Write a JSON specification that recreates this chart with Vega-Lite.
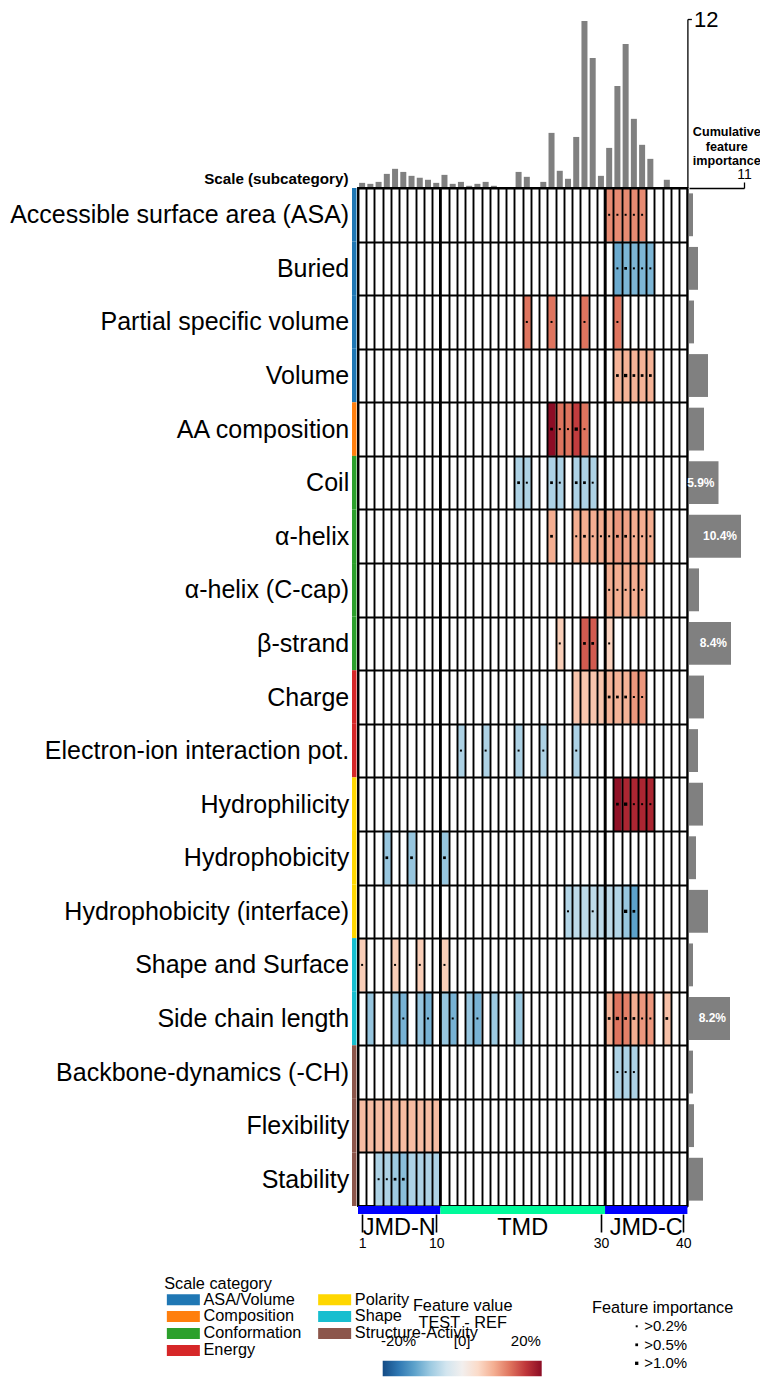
{
  "$schema": "https://vega.github.io/schema/vega-lite/v6.json",
  "padding": {"left": 8, "top": 8, "right": 0, "bottom": 0},
  "autosize": {"type": "pad"},
  "config": {
    "font": "Liberation Sans",
    "view": {"stroke": null},
    "axis": {"labelColor": "black", "titleColor": "black", "domainColor": "black", "tickColor": "black"},
    "legend": {"labelColor": "black", "titleColor": "black"}
  },
  "resolve": {"legend": {"size": "independent", "color": "independent"}},
  "datasets": {
    "subs": [
      {"sub": "Accessible surface area (ASA)", "cat": "ASA/Volume", "imp": 0.8, "lbl": ""},
      {"sub": "Buried", "cat": "ASA/Volume", "imp": 1.8, "lbl": ""},
      {"sub": "Partial specific volume", "cat": "ASA/Volume", "imp": 1.0, "lbl": ""},
      {"sub": "Volume", "cat": "ASA/Volume", "imp": 3.8, "lbl": ""},
      {"sub": "AA composition", "cat": "Composition", "imp": 3.0, "lbl": ""},
      {"sub": "Coil", "cat": "Conformation", "imp": 5.9, "lbl": "5.9%"},
      {"sub": "α-helix", "cat": "Conformation", "imp": 10.4, "lbl": "10.4%"},
      {"sub": "α-helix (C-cap)", "cat": "Conformation", "imp": 2.0, "lbl": ""},
      {"sub": "β-strand", "cat": "Conformation", "imp": 8.4, "lbl": "8.4%"},
      {"sub": "Charge", "cat": "Energy", "imp": 3.0, "lbl": ""},
      {"sub": "Electron-ion interaction pot.", "cat": "Energy", "imp": 1.8, "lbl": ""},
      {"sub": "Hydrophilicity", "cat": "Polarity", "imp": 2.8, "lbl": ""},
      {"sub": "Hydrophobicity", "cat": "Polarity", "imp": 1.4, "lbl": ""},
      {"sub": "Hydrophobicity (interface)", "cat": "Polarity", "imp": 3.8, "lbl": ""},
      {"sub": "Shape and Surface", "cat": "Shape", "imp": 0.8, "lbl": ""},
      {"sub": "Side chain length", "cat": "Shape", "imp": 8.2, "lbl": "8.2%"},
      {"sub": "Backbone-dynamics (-CH)", "cat": "Structure-Activity", "imp": 0.8, "lbl": ""},
      {"sub": "Flexibility", "cat": "Structure-Activity", "imp": 1.0, "lbl": ""},
      {"sub": "Stability", "cat": "Structure-Activity", "imp": 2.8, "lbl": ""}
    ],
    "posimp": [
      {"pos": 1, "imp": 0.33}, {"pos": 2, "imp": 0.26}, {"pos": 3, "imp": 0.4}, {"pos": 4, "imp": 0.97},
      {"pos": 5, "imp": 1.33}, {"pos": 6, "imp": 1.11}, {"pos": 7, "imp": 0.83}, {"pos": 8, "imp": 0.69},
      {"pos": 9, "imp": 0.55}, {"pos": 10, "imp": 0.33}, {"pos": 11, "imp": 0.9}, {"pos": 12, "imp": 0.26},
      {"pos": 13, "imp": 0.4}, {"pos": 14, "imp": 0.12}, {"pos": 15, "imp": 0.26}, {"pos": 16, "imp": 0.4},
      {"pos": 17, "imp": 0.12}, {"pos": 18, "imp": 0}, {"pos": 19, "imp": 0}, {"pos": 20, "imp": 1.11},
      {"pos": 21, "imp": 0.76}, {"pos": 22, "imp": 0}, {"pos": 23, "imp": 0.4}, {"pos": 24, "imp": 3.89},
      {"pos": 25, "imp": 1.19}, {"pos": 26, "imp": 0.62}, {"pos": 27, "imp": 3.6}, {"pos": 28, "imp": 11.86},
      {"pos": 29, "imp": 9.22}, {"pos": 30, "imp": 0.83}, {"pos": 31, "imp": 2.82}, {"pos": 32, "imp": 7.23},
      {"pos": 33, "imp": 10.22}, {"pos": 34, "imp": 4.89}, {"pos": 35, "imp": 3.04}, {"pos": 36, "imp": 2.04},
      {"pos": 37, "imp": 0}, {"pos": 38, "imp": 0.55}, {"pos": 39, "imp": 0}, {"pos": 40, "imp": 0}
    ],
    "edges": [{"pos": 11}, {"pos": 31}],
    "regions": [
      {"region": "JMD-N", "start": 0.5, "end": 10.5, "mid": 5.5},
      {"region": "TMD", "start": 10.5, "end": 30.5, "mid": 20.5},
      {"region": "JMD-C", "start": 30.5, "end": 40.5, "mid": 35.5}
    ],
    "cells": [
      {"sub": "Accessible surface area (ASA)", "pos": 31, "val": 13, "dot": ">0.2%"},
      {"sub": "Accessible surface area (ASA)", "pos": 32, "val": 13, "dot": ">0.2%"},
      {"sub": "Accessible surface area (ASA)", "pos": 33, "val": 13, "dot": ">0.2%"},
      {"sub": "Accessible surface area (ASA)", "pos": 34, "val": 13, "dot": ">0.2%"},
      {"sub": "Accessible surface area (ASA)", "pos": 35, "val": 13, "dot": ">0.2%"},
      {"sub": "Buried", "pos": 32, "val": -14, "dot": ">0.2%"},
      {"sub": "Buried", "pos": 33, "val": -12.5, "dot": ">0.5%"},
      {"sub": "Buried", "pos": 34, "val": -12.5, "dot": ">0.2%"},
      {"sub": "Buried", "pos": 35, "val": -12.5, "dot": ">0.2%"},
      {"sub": "Buried", "pos": 36, "val": -12.5, "dot": ">0.2%"},
      {"sub": "Partial specific volume", "pos": 21, "val": 15, "dot": ">0.2%"},
      {"sub": "Partial specific volume", "pos": 24, "val": 15, "dot": ">0.2%"},
      {"sub": "Partial specific volume", "pos": 28, "val": 15, "dot": ">0.2%"},
      {"sub": "Partial specific volume", "pos": 32, "val": 15, "dot": ">0.2%"},
      {"sub": "Volume", "pos": 32, "val": 9.5, "dot": ">0.5%"},
      {"sub": "Volume", "pos": 33, "val": 9.5, "dot": ">1.0%"},
      {"sub": "Volume", "pos": 34, "val": 9.5, "dot": ">0.5%"},
      {"sub": "Volume", "pos": 35, "val": 9.5, "dot": ">0.5%"},
      {"sub": "Volume", "pos": 36, "val": 9.5, "dot": ">0.5%"},
      {"sub": "AA composition", "pos": 24, "val": 25, "dot": ">0.5%"},
      {"sub": "AA composition", "pos": 25, "val": 15, "dot": ">0.2%"},
      {"sub": "AA composition", "pos": 26, "val": 15, "dot": ">0.2%"},
      {"sub": "AA composition", "pos": 27, "val": 19.5, "dot": ">1.0%"},
      {"sub": "AA composition", "pos": 28, "val": 15, "dot": ">0.2%"},
      {"sub": "Coil", "pos": 20, "val": -8.5, "dot": ">0.5%"},
      {"sub": "Coil", "pos": 21, "val": -8.5, "dot": ">0.2%"},
      {"sub": "Coil", "pos": 24, "val": -8.5, "dot": ">0.5%"},
      {"sub": "Coil", "pos": 25, "val": -8.5, "dot": ">0.2%"},
      {"sub": "Coil", "pos": 27, "val": -8.5, "dot": ">0.5%"},
      {"sub": "Coil", "pos": 28, "val": -8.5, "dot": ">0.5%"},
      {"sub": "Coil", "pos": 29, "val": -8.5, "dot": ">0.2%"},
      {"sub": "α-helix", "pos": 24, "val": 10, "dot": ">0.5%"},
      {"sub": "α-helix", "pos": 27, "val": 10, "dot": ">0.2%"},
      {"sub": "α-helix", "pos": 28, "val": 10, "dot": ">0.5%"},
      {"sub": "α-helix", "pos": 29, "val": 10, "dot": ">0.2%"},
      {"sub": "α-helix", "pos": 30, "val": 10, "dot": ">0.2%"},
      {"sub": "α-helix", "pos": 31, "val": 10, "dot": ">0.2%"},
      {"sub": "α-helix", "pos": 32, "val": 12, "dot": ">0.5%"},
      {"sub": "α-helix", "pos": 33, "val": 11, "dot": ">0.5%"},
      {"sub": "α-helix", "pos": 34, "val": 10, "dot": ">0.2%"},
      {"sub": "α-helix", "pos": 35, "val": 10, "dot": ">0.2%"},
      {"sub": "α-helix", "pos": 36, "val": 10, "dot": ">0.2%"},
      {"sub": "α-helix (C-cap)", "pos": 31, "val": 10, "dot": ">0.2%"},
      {"sub": "α-helix (C-cap)", "pos": 32, "val": 10, "dot": ">0.2%"},
      {"sub": "α-helix (C-cap)", "pos": 33, "val": 10, "dot": ">0.2%"},
      {"sub": "α-helix (C-cap)", "pos": 34, "val": 10, "dot": ">0.2%"},
      {"sub": "α-helix (C-cap)", "pos": 35, "val": 10, "dot": ">0.2%"},
      {"sub": "β-strand", "pos": 25, "val": 6.5, "dot": ">0.2%"},
      {"sub": "β-strand", "pos": 28, "val": 17, "dot": ">0.5%"},
      {"sub": "β-strand", "pos": 29, "val": 17, "dot": ">0.5%"},
      {"sub": "β-strand", "pos": 31, "val": 6, "dot": ">0.2%"},
      {"sub": "Charge", "pos": 27, "val": 7.5},
      {"sub": "Charge", "pos": 28, "val": 7.5},
      {"sub": "Charge", "pos": 29, "val": 7.5},
      {"sub": "Charge", "pos": 30, "val": 7.5},
      {"sub": "Charge", "pos": 31, "val": 9.5, "dot": ">0.5%"},
      {"sub": "Charge", "pos": 32, "val": 9.5, "dot": ">0.5%"},
      {"sub": "Charge", "pos": 33, "val": 9.5, "dot": ">0.5%"},
      {"sub": "Charge", "pos": 34, "val": 12, "dot": ">0.2%"},
      {"sub": "Charge", "pos": 35, "val": 12, "dot": ">0.2%"},
      {"sub": "Electron-ion interaction pot.", "pos": 13, "val": -8.5, "dot": ">0.2%"},
      {"sub": "Electron-ion interaction pot.", "pos": 16, "val": -8.5, "dot": ">0.2%"},
      {"sub": "Electron-ion interaction pot.", "pos": 20, "val": -8.5, "dot": ">0.2%"},
      {"sub": "Electron-ion interaction pot.", "pos": 23, "val": -8.5, "dot": ">0.2%"},
      {"sub": "Electron-ion interaction pot.", "pos": 27, "val": -8.5, "dot": ">0.2%"},
      {"sub": "Hydrophilicity", "pos": 32, "val": 24.5, "dot": ">0.5%"},
      {"sub": "Hydrophilicity", "pos": 33, "val": 22, "dot": ">1.0%"},
      {"sub": "Hydrophilicity", "pos": 34, "val": 22, "dot": ">0.2%"},
      {"sub": "Hydrophilicity", "pos": 35, "val": 22, "dot": ">0.2%"},
      {"sub": "Hydrophilicity", "pos": 36, "val": 22, "dot": ">0.2%"},
      {"sub": "Hydrophobicity", "pos": 4, "val": -10.5, "dot": ">0.5%"},
      {"sub": "Hydrophobicity", "pos": 7, "val": -10.5, "dot": ">0.5%"},
      {"sub": "Hydrophobicity", "pos": 11, "val": -10.5, "dot": ">0.5%"},
      {"sub": "Hydrophobicity (interface)", "pos": 26, "val": -8, "dot": ">0.2%"},
      {"sub": "Hydrophobicity (interface)", "pos": 27, "val": -7},
      {"sub": "Hydrophobicity (interface)", "pos": 28, "val": -7},
      {"sub": "Hydrophobicity (interface)", "pos": 29, "val": -7, "dot": ">0.2%"},
      {"sub": "Hydrophobicity (interface)", "pos": 30, "val": -7},
      {"sub": "Hydrophobicity (interface)", "pos": 31, "val": -7},
      {"sub": "Hydrophobicity (interface)", "pos": 32, "val": -8},
      {"sub": "Hydrophobicity (interface)", "pos": 33, "val": -10.5, "dot": ">1.0%"},
      {"sub": "Hydrophobicity (interface)", "pos": 34, "val": -15, "dot": ">0.5%"},
      {"sub": "Shape and Surface", "pos": 1, "val": 6.5, "dot": ">0.2%"},
      {"sub": "Shape and Surface", "pos": 5, "val": 6.5, "dot": ">0.2%"},
      {"sub": "Shape and Surface", "pos": 8, "val": 6.5, "dot": ">0.2%"},
      {"sub": "Shape and Surface", "pos": 11, "val": 6.5, "dot": ">0.2%"},
      {"sub": "Side chain length", "pos": 2, "val": -10.5},
      {"sub": "Side chain length", "pos": 5, "val": -10.5},
      {"sub": "Side chain length", "pos": 6, "val": -13, "dot": ">0.2%"},
      {"sub": "Side chain length", "pos": 8, "val": -10.5},
      {"sub": "Side chain length", "pos": 9, "val": -13, "dot": ">0.2%"},
      {"sub": "Side chain length", "pos": 11, "val": -10.5},
      {"sub": "Side chain length", "pos": 12, "val": -13, "dot": ">0.2%"},
      {"sub": "Side chain length", "pos": 14, "val": -10.5},
      {"sub": "Side chain length", "pos": 15, "val": -13, "dot": ">0.2%"},
      {"sub": "Side chain length", "pos": 17, "val": -10},
      {"sub": "Side chain length", "pos": 20, "val": -10},
      {"sub": "Side chain length", "pos": 31, "val": 9.5, "dot": ">0.5%"},
      {"sub": "Side chain length", "pos": 32, "val": 15, "dot": ">1.0%"},
      {"sub": "Side chain length", "pos": 33, "val": 14, "dot": ">0.5%"},
      {"sub": "Side chain length", "pos": 34, "val": 10, "dot": ">0.5%"},
      {"sub": "Side chain length", "pos": 35, "val": 12, "dot": ">0.2%"},
      {"sub": "Side chain length", "pos": 36, "val": 12, "dot": ">0.2%"},
      {"sub": "Side chain length", "pos": 38, "val": 8, "dot": ">0.5%"},
      {"sub": "Backbone-dynamics (-CH)", "pos": 32, "val": -8.5, "dot": ">0.2%"},
      {"sub": "Backbone-dynamics (-CH)", "pos": 33, "val": -8.5, "dot": ">0.2%"},
      {"sub": "Backbone-dynamics (-CH)", "pos": 34, "val": -8.5, "dot": ">0.2%"},
      {"sub": "Flexibility", "pos": 1, "val": 8.5},
      {"sub": "Flexibility", "pos": 2, "val": 8.5},
      {"sub": "Flexibility", "pos": 3, "val": 8.5},
      {"sub": "Flexibility", "pos": 4, "val": 8.5},
      {"sub": "Flexibility", "pos": 5, "val": 8.5},
      {"sub": "Flexibility", "pos": 6, "val": 8.5},
      {"sub": "Flexibility", "pos": 7, "val": 8.5},
      {"sub": "Flexibility", "pos": 8, "val": 8.5},
      {"sub": "Flexibility", "pos": 9, "val": 8.5},
      {"sub": "Flexibility", "pos": 10, "val": 8.5},
      {"sub": "Stability", "pos": 3, "val": -8.5, "dot": ">0.2%"},
      {"sub": "Stability", "pos": 4, "val": -8.5, "dot": ">0.2%"},
      {"sub": "Stability", "pos": 5, "val": -10, "dot": ">0.5%"},
      {"sub": "Stability", "pos": 6, "val": -11.5, "dot": ">0.5%"},
      {"sub": "Stability", "pos": 7, "val": -8.5},
      {"sub": "Stability", "pos": 8, "val": -8.5},
      {"sub": "Stability", "pos": 9, "val": -8.5},
      {"sub": "Stability", "pos": 10, "val": -8.5}
    ]
  },
  "columns": 3,
  "spacing": {"row": 0, "column": 1},
  "align": "each",
  "bounds": "flush",
  "concat": [
    {"width": 1, "height": 1, "data": {"values": [{}]}, "mark": {"type": "point", "opacity": 0}},
    {
      "width": 329.4, "height": 168.5,
      "data": {"name": "posimp"},
      "mark": {"type": "bar", "color": "#808080"},
      "encoding": {
        "x": {"field": "pos", "type": "ordinal", "scale": {"domain": [1,2,3,4,5,6,7,8,9,10,11,12,13,14,15,16,17,18,19,20,21,22,23,24,25,26,27,28,29,30,31,32,33,34,35,36,37,38,39,40], "paddingInner": 0.27, "paddingOuter": 0.135}, "axis": null},
        "y": {"field": "imp", "type": "quantitative", "scale": {"domain": [0, 12], "nice": false}, "axis": {"orient": "right", "values": [12], "title": null, "labelFontSize": 22, "tickSize": 4, "labelPadding": 2, "grid": false, "domainWidth": 1.3, "tickWidth": 1.3}}
      }
    },
    {"width": 1, "height": 1, "data": {"values": [{}]}, "mark": {"type": "point", "opacity": 0}},
    {
      "width": 4.5, "height": 1018,
      "data": {"name": "subs"},
      "mark": {"type": "rect"},
      "encoding": {
        "y": {"field": "sub", "type": "nominal", "scale": {"domain": ["Accessible surface area (ASA)","Buried","Partial specific volume","Volume","AA composition","Coil","α-helix","α-helix (C-cap)","β-strand","Charge","Electron-ion interaction pot.","Hydrophilicity","Hydrophobicity","Hydrophobicity (interface)","Shape and Surface","Side chain length","Backbone-dynamics (-CH)","Flexibility","Stability"], "paddingInner": 0, "paddingOuter": 0}, "axis": null},
        "color": {"field": "cat", "type": "nominal",
          "scale": {"domain": ["ASA/Volume","Composition","Conformation","Energy","Polarity","Shape","Structure-Activity"], "range": ["#1f77b4","#ff7f0e","#2ca02c","#d62728","#ffd700","#17becf","#8c564b"]},
          "legend": {"title": "Scale category", "orient": "none", "legendX": -187.8, "legendY": 1088, "columns": 2, "symbolType": "M-3,-1H3V1H-3Z", "symbolSize": 121, "symbolStrokeWidth": 0, "symbolOpacity": 1, "symbolOffset": 11, "labelFontSize": 16.3, "titleFontSize": 16.3, "titleFontWeight": "normal", "labelOffset": 12, "columnPadding": 13.3, "rowPadding": -1.3, "titlePadding": -1}}
      }
    },
    {
      "width": 329.4, "height": 1018,
      "view": {"stroke": "black", "strokeWidth": 1.9},
      "layer": [
        {
          "data": {"name": "cells"},
          "mark": {"type": "rect"},
          "encoding": {
            "x": {"field": "pos", "type": "ordinal", "scale": {"domain": [1,2,3,4,5,6,7,8,9,10,11,12,13,14,15,16,17,18,19,20,21,22,23,24,25,26,27,28,29,30,31,32,33,34,35,36,37,38,39,40], "paddingInner": 0, "paddingOuter": 0},
              "axis": {"grid": true, "tickBand": "extent", "gridColor": "black", "gridWidth": 1.9, "gridOpacity": 1, "labels": false, "ticks": false, "domain": false, "title": null, "zindex": 1}},
            "y": {"field": "sub", "type": "nominal", "scale": {"domain": ["Accessible surface area (ASA)","Buried","Partial specific volume","Volume","AA composition","Coil","α-helix","α-helix (C-cap)","β-strand","Charge","Electron-ion interaction pot.","Hydrophilicity","Hydrophobicity","Hydrophobicity (interface)","Shape and Surface","Side chain length","Backbone-dynamics (-CH)","Flexibility","Stability"], "paddingInner": 0, "paddingOuter": 0},
              "axis": {"title": "Scale (subcategory)", "titleAngle": 0, "titleAlign": "right", "titleBaseline": "alphabetic", "titleX": -10, "titleY": -4.2, "titleFontSize": 15.2, "titleFontWeight": "bold", "labelFontSize": 25, "labelLimit": 0, "labelPadding": 9.3, "ticks": false, "tickSize": 0, "domain": false, "grid": true, "tickBand": "extent", "gridColor": "black", "gridWidth": 1.9, "gridOpacity": 1, "zindex": 1}},
            "color": {"field": "val", "type": "quantitative", "scale": {"scheme": "redblue", "reverse": true, "domain": [-25, 25], "domainMid": 0},
              "legend": {"title": ["Feature value", "TEST - REF"], "orient": "none", "legendX": 24.7, "legendY": 1109.5, "direction": "horizontal", "gradientLength": 159, "gradientThickness": 15.5, "values": [-20, 0, 20], "labelExpr": "datum.value == 0 ? '[0]' : datum.value + '%'", "labelFontSize": 15, "labelOffset": -42.5, "labelFlush": false, "titleFontSize": 16.3, "titleFontWeight": "normal", "titleAnchor": "middle", "titleLineHeight": 17, "titlePadding": 30}}
          }
        },
        {
          "data": {"name": "cells"},
          "transform": [{"filter": "isValid(datum.dot)"}],
          "mark": {"type": "square", "color": "black", "opacity": 1},
          "encoding": {
            "x": {"field": "pos", "type": "ordinal"},
            "y": {"field": "sub", "type": "nominal"},
            "size": {"field": "dot", "type": "ordinal", "scale": {"domain": [">0.2%", ">0.5%", ">1.0%"], "range": [4, 11, 25]},
              "legend": {"title": "Feature importance", "orient": "none", "legendX": 233.7, "legendY": 1111.5, "symbolType": "square", "symbolFillColor": "black", "symbolStrokeWidth": 0, "symbolOpacity": 1, "symbolOffset": -8.5, "labelOffset": 0, "labelFontSize": 15, "titleFontSize": 16.3, "titleFontWeight": "normal", "titleAnchor": "middle", "rowPadding": 2.5, "titlePadding": 3}}
          }
        },
        {
          "data": {"name": "edges"},
          "mark": {"type": "rule", "color": "black", "strokeWidth": 2.7},
          "encoding": {"x": {"field": "pos", "type": "ordinal", "bandPosition": 0}}
        }
      ]
    },
    {
      "width": 55, "height": 1018,
      "data": {"name": "subs"},
      "layer": [
        {
          "mark": {"type": "bar", "color": "#808080"},
          "encoding": {
            "y": {"field": "sub", "type": "nominal", "scale": {"domain": ["Accessible surface area (ASA)","Buried","Partial specific volume","Volume","AA composition","Coil","α-helix","α-helix (C-cap)","β-strand","Charge","Electron-ion interaction pot.","Hydrophilicity","Hydrophobicity","Hydrophobicity (interface)","Shape and Surface","Side chain length","Backbone-dynamics (-CH)","Flexibility","Stability"], "paddingInner": 0.2, "paddingOuter": 0.1}, "axis": null},
            "x": {"field": "imp", "type": "quantitative", "scale": {"domain": [0, 11], "nice": false},
              "axis": {"orient": "top", "values": [11], "title": ["Cumulative", "feature", "importance"], "titleFontSize": 12.6, "titleFontWeight": "bold", "titleAngle": 0, "titleAlign": "center", "titleBaseline": "top", "titleX": 37.3, "titleY": -62.5, "titleLineHeight": 14.5, "labelFontSize": 14, "labelFlush": false, "tickSize": 6, "labelPadding": 1, "grid": false, "domainWidth": 1.3, "tickWidth": 1.3}}
          }
        },
        {
          "mark": {"type": "text", "color": "white", "fontWeight": "bold", "fontSize": 12, "align": "right", "dx": -4},
          "encoding": {
            "y": {"field": "sub", "type": "nominal"},
            "x": {"field": "imp", "type": "quantitative"},
            "text": {"field": "lbl"}
          }
        }
      ]
    },
    {"width": 1, "height": 1, "data": {"values": [{}]}, "mark": {"type": "point", "opacity": 0}},
    {
      "width": 329.4, "height": 8,
      "data": {"name": "regions"},
      "layer": [
        {
          "mark": {"type": "rect"},
          "encoding": {
            "x": {"field": "start", "type": "quantitative", "scale": {"domain": [0.5, 40.5], "nice": false, "zero": false},
              "axis": {"values": [1, 10, 30, 40], "title": null, "labelFontSize": 14, "tickSize": 18, "tickWidth": 1.6, "domain": false, "grid": false, "labelPadding": 4, "labelFlush": false}},
            "x2": {"field": "end"},
            "color": {"field": "region", "type": "nominal", "scale": {"domain": ["JMD-N", "TMD", "JMD-C"], "range": ["#0000ff", "#00fa9a", "#0000ff"]}, "legend": null}
          }
        },
        {
          "mark": {"type": "text", "fontSize": 23.5, "baseline": "alphabetic", "dy": 25, "color": "black"},
          "encoding": {
            "x": {"field": "mid", "type": "quantitative"},
            "text": {"field": "region"}
          }
        }
      ]
    },
    {"width": 1, "height": 1, "data": {"values": [{}]}, "mark": {"type": "point", "opacity": 0}}
  ]
}
